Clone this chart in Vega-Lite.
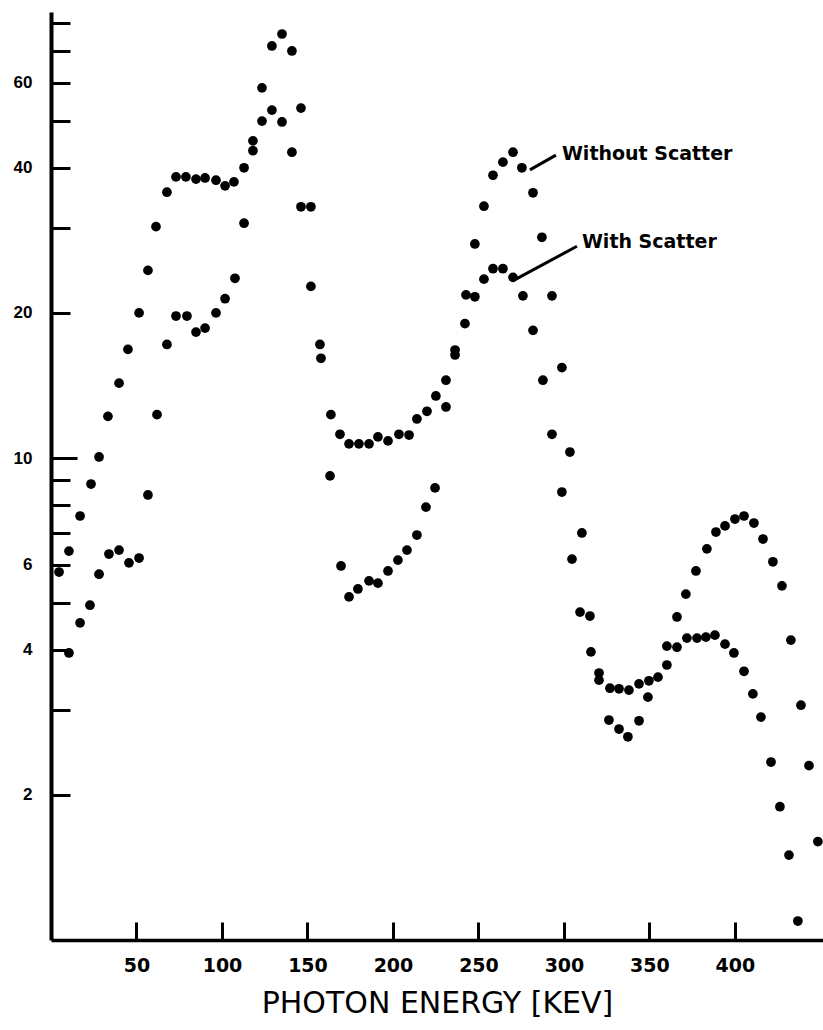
{
  "$schema": "https://vega.github.io/schema/vega-lite/v6.json",
  "width": 772,
  "height": 928,
  "autosize": {"type": "none"},
  "padding": {"left": 51, "top": 12, "right": 0, "bottom": 90},
  "background": "white",
  "config": {"view": {"stroke": null}},
  "datasets": {
    "points": [
      {"s":"B","e":4.7,"c":5.80},{"s":"B","e":10.5,"c":6.41},{"s":"B","e":17.0,"c":7.58},{"s":"B","e":23.4,"c":8.83},{"s":"B","e":28.1,"c":10.05},{"s":"B","e":33.3,"c":12.2},{"s":"B","e":39.8,"c":14.3},{"s":"B","e":45.0,"c":16.8},{"s":"B","e":51.5,"c":20.0},{"s":"B","e":56.7,"c":24.5},{"s":"B","e":61.4,"c":30.2},{"s":"B","e":67.8,"c":35.6},{"s":"B","e":73.1,"c":38.3},{"s":"B","e":78.9,"c":38.3},{"s":"B","e":84.8,"c":37.9},{"s":"B","e":90.1,"c":38.1},{"s":"B","e":96.5,"c":37.7},{"s":"B","e":101.8,"c":36.7},{"s":"B","e":107.0,"c":37.4},{"s":"B","e":112.9,"c":40.0},{"s":"B","e":118.1,"c":45.5},{"s":"B","e":123.4,"c":50.0},{"s":"B","e":129.2,"c":52.7},{"s":"B","e":135.1,"c":49.8},{"s":"B","e":140.9,"c":43.1},{"s":"B","e":146.2,"c":33.2},{"s":"B","e":152.0,"c":22.7},{"s":"B","e":157.3,"c":17.2},{"s":"B","e":163.7,"c":12.3},{"s":"B","e":169.0,"c":11.2},{"s":"B","e":174.3,"c":10.7},{"s":"B","e":180.1,"c":10.7},{"s":"B","e":186.0,"c":10.7},{"s":"B","e":191.2,"c":11.06},{"s":"B","e":197.1,"c":10.85},{"s":"B","e":203.5,"c":11.2},{"s":"B","e":209.4,"c":11.16},{"s":"B","e":214.0,"c":12.05},{"s":"B","e":219.9,"c":12.5},{"s":"B","e":225.1,"c":13.45},{"s":"B","e":231.0,"c":14.5},{"s":"B","e":236.3,"c":16.75},{"s":"B","e":242.1,"c":19.0},{"s":"B","e":247.9,"c":21.6},{"s":"B","e":253.2,"c":23.5},{"s":"B","e":258.5,"c":24.7},{"s":"B","e":264.3,"c":24.7},{"s":"B","e":270.2,"c":23.7},{"s":"B","e":276.0,"c":21.7},{"s":"B","e":281.9,"c":18.4},{"s":"B","e":287.7,"c":14.5},{"s":"B","e":293.0,"c":11.2},{"s":"B","e":298.8,"c":8.5},{"s":"B","e":304.7,"c":6.17},{"s":"B","e":309.4,"c":4.79},{"s":"B","e":315.8,"c":3.96},{"s":"B","e":320.5,"c":3.58},{"s":"B","e":326.9,"c":3.33},{"s":"B","e":332.2,"c":3.32},{"s":"B","e":338.0,"c":3.30},{"s":"B","e":343.9,"c":3.40},{"s":"B","e":349.7,"c":3.45},{"s":"B","e":355.0,"c":3.51},{"s":"B","e":360.2,"c":3.72},{"s":"B","e":366.1,"c":4.05},{"s":"B","e":371.9,"c":4.23},{"s":"B","e":377.8,"c":4.23},{"s":"B","e":383.0,"c":4.25},{"s":"B","e":388.3,"c":4.29},{"s":"B","e":394.2,"c":4.11},{"s":"B","e":399.4,"c":3.94},{"s":"B","e":405.3,"c":3.61},{"s":"B","e":410.5,"c":3.24},{"s":"B","e":415.2,"c":2.90},{"s":"B","e":421.1,"c":2.34},{"s":"B","e":426.3,"c":1.89},{"s":"B","e":431.6,"c":1.50},{"s":"B","e":436.8,"c":1.095},
      {"s":"A","e":10.5,"c":3.94},{"s":"A","e":17.0,"c":4.55},{"s":"A","e":22.8,"c":4.95},{"s":"A","e":28.1,"c":5.74},{"s":"A","e":33.9,"c":6.32},{"s":"A","e":39.8,"c":6.44},{"s":"A","e":45.6,"c":6.06},{"s":"A","e":51.5,"c":6.20},{"s":"A","e":56.7,"c":8.38},{"s":"A","e":62.0,"c":12.3},{"s":"A","e":67.8,"c":17.2},{"s":"A","e":73.1,"c":19.7},{"s":"A","e":79.5,"c":19.7},{"s":"A","e":84.8,"c":18.25},{"s":"A","e":90.1,"c":18.6},{"s":"A","e":96.5,"c":20.0},{"s":"A","e":101.8,"c":21.4},{"s":"A","e":107.6,"c":23.6},{"s":"A","e":112.9,"c":30.7},{"s":"A","e":118.1,"c":43.4},{"s":"A","e":123.4,"c":58.6},{"s":"A","e":129.2,"c":71.6},{"s":"A","e":135.1,"c":75.8},{"s":"A","e":140.9,"c":69.9},{"s":"A","e":146.2,"c":53.2},{"s":"A","e":152.0,"c":33.2},{"s":"A","e":157.9,"c":16.1},{"s":"A","e":163.2,"c":9.18},{"s":"A","e":169.6,"c":5.97},{"s":"A","e":174.3,"c":5.15},{"s":"A","e":179.5,"c":5.35},{"s":"A","e":186.0,"c":5.56},{"s":"A","e":191.2,"c":5.50},{"s":"A","e":197.1,"c":5.83},{"s":"A","e":202.9,"c":6.14},{"s":"A","e":208.2,"c":6.44},{"s":"A","e":214.0,"c":6.92},{"s":"A","e":219.3,"c":7.91},{"s":"A","e":224.6,"c":8.67},{"s":"A","e":231.0,"c":12.76},{"s":"A","e":236.3,"c":16.36},{"s":"A","e":242.7,"c":21.8},{"s":"A","e":247.9,"c":27.8},{"s":"A","e":253.2,"c":33.3},{"s":"A","e":258.5,"c":38.6},{"s":"A","e":264.3,"c":41.1},{"s":"A","e":270.2,"c":43.1},{"s":"A","e":275.4,"c":40.0},{"s":"A","e":281.9,"c":35.5},{"s":"A","e":287.1,"c":28.7},{"s":"A","e":293.0,"c":21.7},{"s":"A","e":298.8,"c":15.4},{"s":"A","e":303.5,"c":10.29},{"s":"A","e":310.5,"c":6.99},{"s":"A","e":315.2,"c":4.70},{"s":"A","e":320.5,"c":3.46},{"s":"A","e":326.3,"c":2.86},{"s":"A","e":332.2,"c":2.74},{"s":"A","e":337.4,"c":2.64},{"s":"A","e":343.9,"c":2.85},{"s":"A","e":349.1,"c":3.19},{"s":"A","e":360.2,"c":4.07},{"s":"A","e":366.1,"c":4.68},{"s":"A","e":371.3,"c":5.22},{"s":"A","e":377.2,"c":5.83},{"s":"A","e":383.6,"c":6.48},{"s":"A","e":388.9,"c":7.02},{"s":"A","e":394.2,"c":7.23},{"s":"A","e":400.0,"c":7.47},{"s":"A","e":405.3,"c":7.58},{"s":"A","e":411.1,"c":7.33},{"s":"A","e":416.4,"c":6.79},{"s":"A","e":422.2,"c":6.09},{"s":"A","e":427.5,"c":5.43},{"s":"A","e":432.7,"c":4.19},{"s":"A","e":438.6,"c":3.07},{"s":"A","e":443.3,"c":2.30},{"s":"A","e":448.5,"c":1.60}
    ],
    "labels": [
      {"t": "Without Scatter", "e": 298.8, "c": 42.7},
      {"t": "With Scatter", "e": 310.5, "c": 28.1}
    ],
    "leaders": [
      {"e": 280.1, "c": 39.6, "e2": 295.3, "c2": 42.5},
      {"e": 271.9, "c": 23.5, "e2": 307.6, "c2": 27.5}
    ]
  },
  "layer": [
    {
      "data": {"name": "points"},
      "mark": {"type": "point", "filled": true, "shape": "circle", "size": 95, "color": "black", "opacity": 1},
      "encoding": {
        "x": {
          "field": "e", "type": "quantitative",
          "scale": {"domain": [0, 451.5], "nice": false, "zero": false},
          "axis": {
            "values": [50, 100, 150, 200, 250, 300, 350, 400],
            "title": "PHOTON ENERGY [KEV]",
            "titleFont": "DejaVu Sans", "titleFontSize": 30, "titleFontWeight": "normal", "titleColor": "black",
            "titlePadding": 13,
            "labelFont": "DejaVu Sans", "labelFontSize": 19, "labelFontWeight": "bold", "labelColor": "black",
            "labelPadding": 34, "tickSize": -18, "tickWidth": 3, "tickColor": "black",
            "domainColor": "black", "domainWidth": 3.5, "grid": false, "labelFlush": false
          }
        },
        "y": {
          "field": "c", "type": "quantitative",
          "scale": {"type": "log", "domain": [1, 84.2], "nice": false},
          "axis": {
            "values": [2, 3, 4, 5, 6, 7, 8, 9, 10, 20, 30, 40, 50, 60, 70, 80],
            "labelExpr": "indexof([2,4,6,10,20,40,60], datum.value) >= 0 ? datum.label : ''",
            "format": "d",
            "title": null,
            "labelFont": "Liberation Sans", "labelFontSize": 17, "labelFontWeight": "bold", "labelColor": "black",
            "labelPadding": {"condition": {"test": "datum.value == 10", "value": 45}, "value": 38},
            "tickSize": {"condition": {"test": "datum.value == 10", "value": -26}, "value": -19},
            "tickWidth": 3, "tickColor": "black",
            "domainColor": "black", "domainWidth": 4, "grid": false, "labelFlush": false
          }
        }
      }
    },
    {
      "data": {"name": "leaders"},
      "mark": {"type": "rule", "color": "black", "strokeWidth": 3},
      "encoding": {
        "x": {"field": "e", "type": "quantitative"},
        "y": {"field": "c", "type": "quantitative"},
        "x2": {"field": "e2"},
        "y2": {"field": "c2"}
      }
    },
    {
      "data": {"name": "labels"},
      "mark": {"type": "text", "align": "left", "baseline": "middle", "font": "DejaVu Sans", "fontSize": 19, "fontWeight": "bold", "color": "black"},
      "encoding": {
        "x": {"field": "e", "type": "quantitative"},
        "y": {"field": "c", "type": "quantitative"},
        "text": {"field": "t"}
      }
    }
  ]
}
